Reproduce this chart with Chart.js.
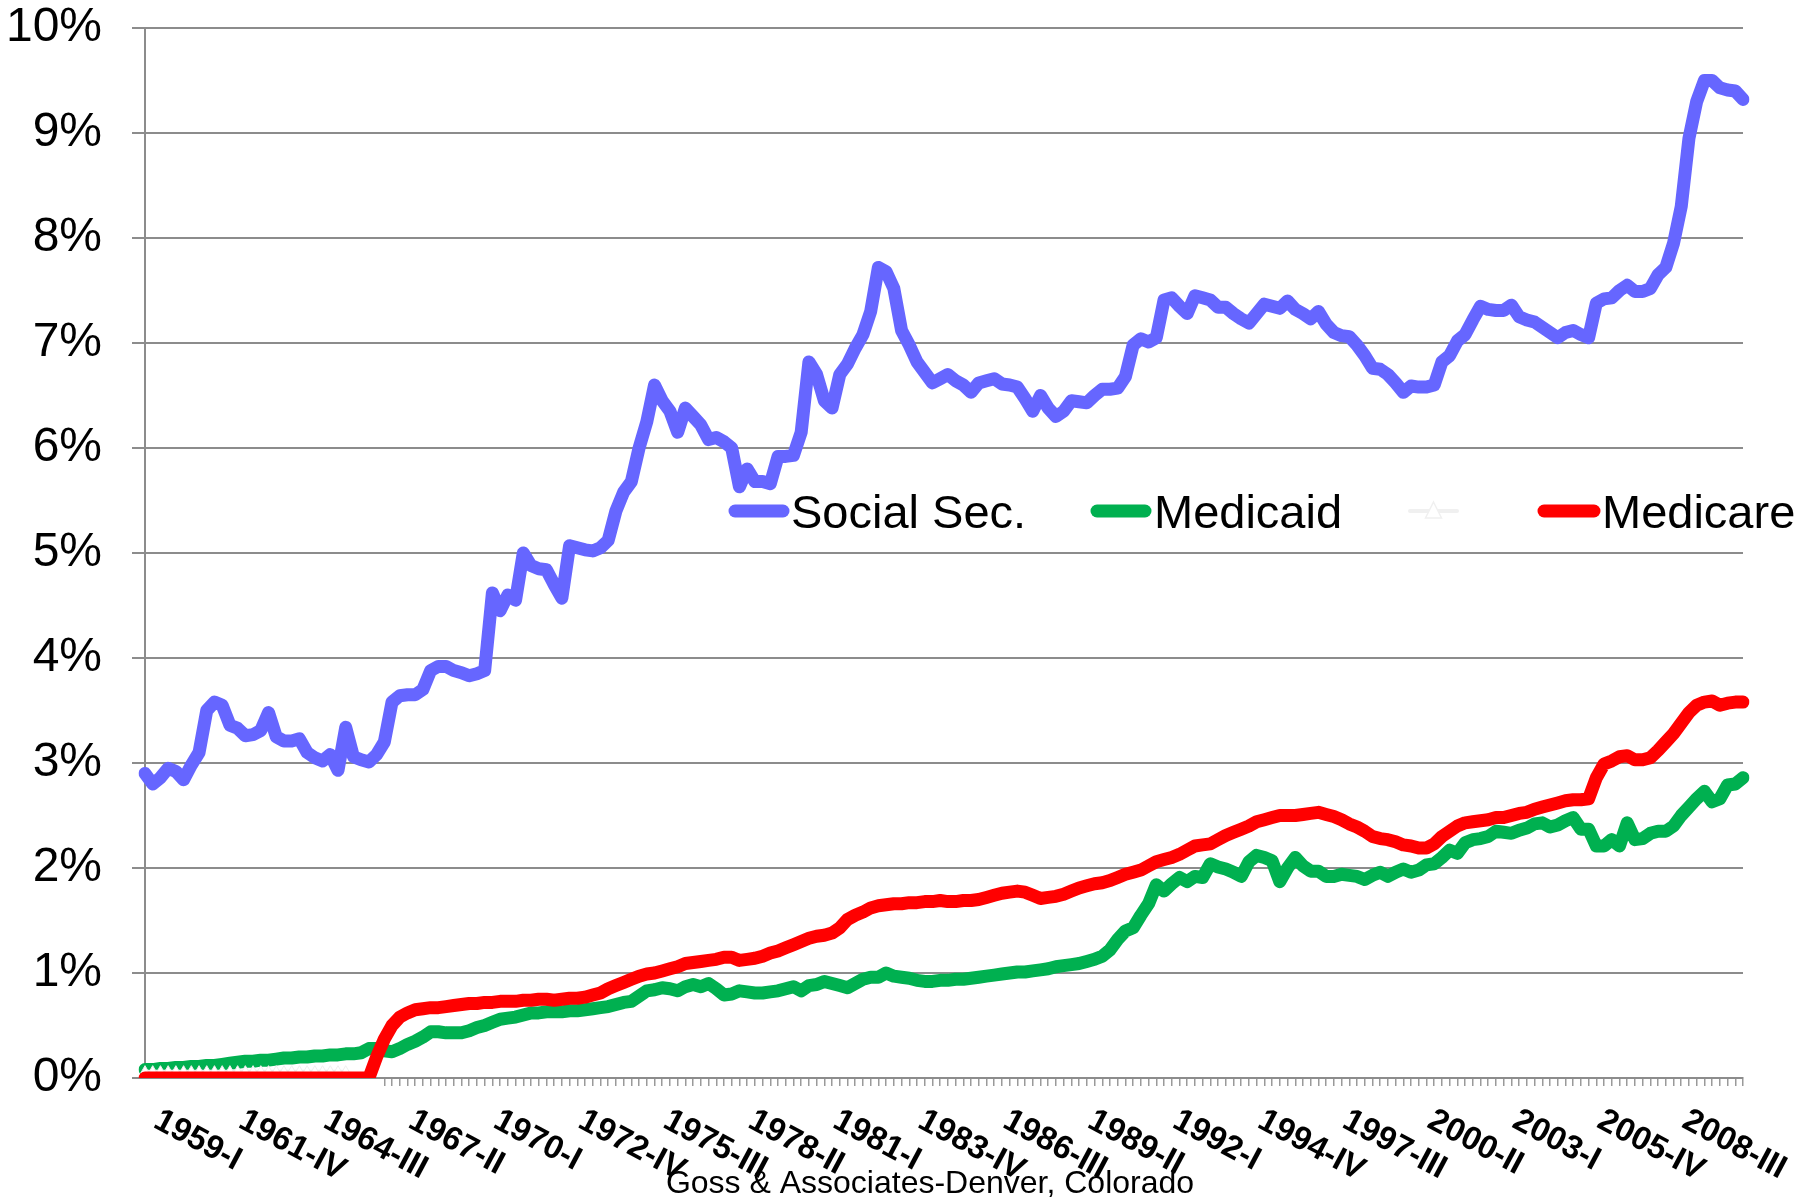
<!DOCTYPE html>
<html>
<head>
<meta charset="utf-8">
<script src="https://cdn.jsdelivr.net/npm/chart.js@4.4.1/dist/chart.umd.min.js"></script>
<style>
  html, body { margin: 0; padding: 0; background: #fff; }
  #wrap { width: 1818px; height: 1199px; }
</style>
</head>
<body>
<div id="wrap"><canvas id="chart" width="1818" height="1199"></canvas></div>
<script>
// quarterly, 1959-I .. 2010-IV
const firstYear = 1959;
const quarterNames = ['I', 'II', 'III', 'IV'];
const categories = [];
for (let y = firstYear; y <= 2010; y++) {
  quarterNames.forEach((q) => categories.push(y + '-' + q));
}
const labelEvery = 11;

const socialSec = [
  2.90, 2.80, 2.86, 2.95, 2.92, 2.84, 2.98, 3.10,
  3.50, 3.58, 3.55, 3.36, 3.33, 3.26, 3.27, 3.31,
  3.48, 3.25, 3.21, 3.21, 3.23, 3.10, 3.05, 3.02,
  3.08, 2.93, 3.34, 3.06, 3.03, 3.01, 3.08, 3.20,
  3.58, 3.64, 3.65, 3.65, 3.70, 3.88, 3.92, 3.92,
  3.88, 3.86, 3.83, 3.85, 3.88, 4.62, 4.45, 4.60,
  4.55, 5.00, 4.88, 4.85, 4.84, 4.70, 4.57, 5.07,
  5.05, 5.03, 5.02, 5.05, 5.12, 5.40, 5.58, 5.68,
  6.00, 6.25, 6.60, 6.45, 6.35, 6.15, 6.38, 6.30,
  6.22, 6.08, 6.10, 6.06, 6.00, 5.63, 5.80, 5.68,
  5.68, 5.66, 5.92, 5.92, 5.93, 6.15, 6.82, 6.70,
  6.45, 6.38, 6.70, 6.80, 6.95, 7.08, 7.30, 7.72,
  7.68, 7.52, 7.12, 6.98, 6.82, 6.72, 6.62, 6.66,
  6.70, 6.64, 6.60, 6.53, 6.62, 6.64, 6.66, 6.61,
  6.60, 6.58, 6.47, 6.35, 6.50, 6.38, 6.30, 6.35,
  6.45, 6.44, 6.43, 6.50, 6.56, 6.56, 6.57, 6.68,
  6.98, 7.04, 7.01, 7.05, 7.41, 7.43, 7.35, 7.28,
  7.45, 7.43, 7.41, 7.34, 7.34, 7.28, 7.23, 7.19,
  7.28, 7.37, 7.35, 7.33, 7.40, 7.32, 7.28, 7.23,
  7.30, 7.18, 7.10, 7.07, 7.06, 6.98, 6.88, 6.76,
  6.75, 6.70, 6.62, 6.53, 6.59, 6.58, 6.58, 6.60,
  6.82, 6.88, 7.02, 7.08, 7.22, 7.35, 7.32, 7.31,
  7.31, 7.36, 7.25, 7.22, 7.20, 7.15, 7.10, 7.05,
  7.10, 7.12, 7.08, 7.05, 7.38, 7.42, 7.43, 7.50,
  7.55, 7.49, 7.49, 7.52, 7.65, 7.72, 7.95, 8.30,
  8.95, 9.30, 9.50, 9.50, 9.43, 9.41, 9.40, 9.32,
];

const medicaid = [
  0.08, 0.08, 0.09, 0.09, 0.10, 0.10, 0.11, 0.11,
  0.12, 0.12, 0.13, 0.14, 0.15, 0.16, 0.16, 0.17,
  0.17, 0.18, 0.19, 0.19, 0.20, 0.20, 0.21, 0.21,
  0.22, 0.22, 0.23, 0.23, 0.24, 0.28, 0.28, 0.26,
  0.25, 0.28, 0.32, 0.35, 0.39, 0.44, 0.44, 0.43,
  0.43, 0.43, 0.45, 0.48, 0.50, 0.53, 0.56, 0.57,
  0.58, 0.60, 0.62, 0.62, 0.63, 0.63, 0.63, 0.64,
  0.64, 0.65, 0.66, 0.67, 0.68, 0.70, 0.72, 0.73,
  0.78, 0.83, 0.84, 0.86, 0.85, 0.83, 0.87, 0.89,
  0.87, 0.90, 0.85, 0.79, 0.80, 0.83, 0.82, 0.81,
  0.81, 0.82, 0.83, 0.85, 0.87, 0.83, 0.88, 0.89,
  0.92, 0.90, 0.88, 0.86, 0.90, 0.94, 0.96, 0.96,
  1.00, 0.97, 0.96, 0.95, 0.93, 0.92, 0.92, 0.93,
  0.93, 0.94, 0.94, 0.95, 0.96, 0.97, 0.98, 0.99,
  1.00, 1.01, 1.01, 1.02, 1.03, 1.04, 1.06, 1.07,
  1.08, 1.09, 1.11, 1.13, 1.16, 1.22, 1.32, 1.40,
  1.43, 1.55, 1.66, 1.84, 1.78, 1.85, 1.91, 1.87,
  1.92, 1.91, 2.04, 2.01, 1.99, 1.96, 1.92, 2.06,
  2.12, 2.10, 2.07, 1.87, 2.00, 2.10, 2.02, 1.97,
  1.97, 1.92, 1.92, 1.94, 1.93, 1.92, 1.89, 1.93,
  1.96, 1.92, 1.96, 1.99, 1.96, 1.98, 2.03, 2.04,
  2.10, 2.17, 2.14, 2.24, 2.27, 2.28, 2.30, 2.35,
  2.34, 2.33, 2.36, 2.38, 2.42, 2.43, 2.39, 2.41,
  2.45, 2.48, 2.37, 2.37, 2.21, 2.21, 2.27, 2.21,
  2.43, 2.27, 2.28, 2.33, 2.35, 2.35, 2.40, 2.50,
  2.58, 2.66, 2.73, 2.63, 2.66, 2.79, 2.80, 2.86,
];

const medicare = [
  0, 0, 0, 0, 0, 0, 0, 0,
  0, 0, 0, 0, 0, 0, 0, 0,
  0, 0, 0, 0, 0, 0, 0, 0,
  0, 0, 0, 0, 0, 0, 0.20, 0.37,
  0.50, 0.58, 0.62, 0.65, 0.66, 0.67, 0.67, 0.68,
  0.69, 0.70, 0.71, 0.71, 0.72, 0.72, 0.73, 0.73,
  0.73, 0.74, 0.74, 0.75, 0.75, 0.74, 0.75, 0.76,
  0.76, 0.77, 0.79, 0.81, 0.85, 0.88, 0.91, 0.94,
  0.97, 0.99, 1.00, 1.02, 1.04, 1.06, 1.09, 1.10,
  1.11, 1.12, 1.13, 1.15, 1.15, 1.12, 1.13, 1.14,
  1.16, 1.19, 1.21, 1.24, 1.27, 1.30, 1.33, 1.35,
  1.36, 1.38, 1.43, 1.51, 1.55, 1.58, 1.62, 1.64,
  1.65, 1.66, 1.66, 1.67, 1.67, 1.68, 1.68, 1.69,
  1.68, 1.68, 1.69, 1.69, 1.70, 1.72, 1.74, 1.76,
  1.77, 1.78, 1.77, 1.74, 1.71, 1.72, 1.73, 1.75,
  1.78, 1.81, 1.83, 1.85, 1.86, 1.88, 1.91, 1.94,
  1.96, 1.98, 2.02, 2.06, 2.08, 2.10, 2.13, 2.17,
  2.21, 2.22, 2.23, 2.27, 2.31, 2.34, 2.37, 2.40,
  2.44, 2.46, 2.48, 2.50, 2.50, 2.50, 2.51, 2.52,
  2.53, 2.51, 2.49, 2.46, 2.42, 2.39, 2.35, 2.30,
  2.28, 2.27, 2.25, 2.22, 2.21, 2.19, 2.19, 2.23,
  2.30, 2.35, 2.40, 2.43, 2.44, 2.45, 2.46, 2.48,
  2.48, 2.50, 2.52, 2.53, 2.56, 2.58, 2.60, 2.62,
  2.64, 2.65, 2.65, 2.66, 2.86, 2.99, 3.02, 3.06,
  3.07, 3.03, 3.03, 3.05, 3.12, 3.20, 3.28, 3.38,
  3.48, 3.55, 3.58, 3.59, 3.55, 3.57, 3.58, 3.58,
];

// the unnamed, nearly white series: only its early markers show
const unnamed = [
  0.07, 0.07, 0.07, 0.07, 0.07, 0.07, 0.07, 0.07,
  0.07, 0.07, 0.07, 0.07, 0.07, 0.07, 0.07, 0.07,
  0.07, 0.07, 0.07, 0.07, 0.07, 0.07, 0.07, 0.07,
  0.07, 0.07, 0.07,
];

const seriesNames = ['Social Sec.', 'Medicaid', '', 'Medicare'];
const seriesColors = ['#6666ff', '#00b050', '#f0f0f0', '#ff0000'];

const FONT = "'Liberation Sans', Arial, sans-serif";
const GRID = '#8c8c8c';

// x labels (rotated down to the right), legend inside the plot, footer
const decorations = {
  id: 'decorations',
  afterDraw(chart) {
    const ctx = chart.ctx;
    const xs = chart.scales.x;
    const bottom = chart.chartArea.bottom;

    ctx.save();
    ctx.fillStyle = '#000';
    ctx.font = 'bold 33px ' + FONT;
    ctx.textAlign = 'left';
    ctx.textBaseline = 'top';
    categories.forEach((c, i) => {
      if (i % labelEvery !== 0) return;
      const x = xs.getPixelForValue(i);
      ctx.save();
      ctx.translate(x + 19, bottom + 26);
      ctx.rotate(28 * Math.PI / 180);
      ctx.fillText(c, 0, 0);
      ctx.restore();
    });
    ctx.restore();

    const legendY = 511;
    const slots = [
      { x0: 735, x1: 783, tx: 791 },
      { x0: 1097, x1: 1145, tx: 1154 },
      { x0: 1410, x1: 1457, tx: 1465 },
      { x0: 1544, x1: 1594, tx: 1602 },
    ];
    ctx.save();
    ctx.lineCap = 'round';
    slots.forEach((s, k) => {
      ctx.strokeStyle = seriesColors[k];
      ctx.lineWidth = k === 2 ? 4 : 13;
      ctx.beginPath();
      ctx.moveTo(s.x0, legendY);
      ctx.lineTo(s.x1, legendY);
      ctx.stroke();
      if (k === 2) {
        const cx = (s.x0 + s.x1) / 2;
        ctx.fillStyle = '#fff';
        ctx.lineWidth = 1.5;
        ctx.beginPath();
        ctx.moveTo(cx, legendY - 9);
        ctx.lineTo(cx + 8, legendY + 7);
        ctx.lineTo(cx - 8, legendY + 7);
        ctx.closePath();
        ctx.fill();
        ctx.stroke();
      }
      if (seriesNames[k]) {
        ctx.fillStyle = '#000';
        ctx.font = '47px ' + FONT;
        ctx.textAlign = 'left';
        ctx.textBaseline = 'alphabetic';
        ctx.fillText(seriesNames[k], s.tx, legendY + 17);
      }
    });
    ctx.restore();

    ctx.save();
    ctx.fillStyle = '#000';
    ctx.font = '32px ' + FONT;
    ctx.textAlign = 'center';
    ctx.textBaseline = 'alphabetic';
    ctx.fillText('Goss & Associates-Denver, Colorado', 930, 1193);
    ctx.restore();
  },
};

function lineSet(k, data, order) {
  return {
    label: seriesNames[k],
    data: data,
    borderColor: seriesColors[k],
    backgroundColor: seriesColors[k],
    borderWidth: 13,
    borderCapStyle: 'round',
    borderJoinStyle: 'round',
    pointRadius: 0,
    tension: 0,
    order: order,
  };
}

const unnamedSet = lineSet(2, unnamed, 1);
unnamedSet.borderWidth = 2;
unnamedSet.pointRadius = 5;
unnamedSet.pointStyle = 'triangle';
unnamedSet.pointBackgroundColor = '#ffffff';
unnamedSet.pointBorderColor = '#eeeeee';
unnamedSet.pointBorderWidth = 1;

const chart = new Chart(document.getElementById('chart'), {
  type: 'line',
  data: {
    labels: categories,
    datasets: [
      lineSet(0, socialSec, 3),
      lineSet(1, medicaid, 2),
      unnamedSet,
      lineSet(3, medicare, 0),
    ],
  },
  options: {
    responsive: false,
    animation: false,
    devicePixelRatio: 1,
    layout: { padding: { top: 28, right: 75, bottom: 0, left: 0 } },
    plugins: {
      legend: { display: false },
      tooltip: { enabled: false },
    },
    scales: {
      x: {
        type: 'category',
        offset: false,
        ticks: { display: false },
        grid: {
          display: true,
          drawOnChartArea: false,
          drawTicks: true,
          tickLength: 8,
          // the early minor ticks sit under the pale series in the original
          color: (c) => (c.index <= 30 ? 'rgba(0,0,0,0)' : '#9a9a9a'),
          lineWidth: 1.5,
        },
        border: { display: true, color: GRID, width: 2 },
        afterFit: (s) => { s.height = 121; s.paddingLeft = 0; s.paddingRight = 0; },
      },
      y: {
        min: 0,
        max: 10,
        ticks: {
          stepSize: 1,
          color: '#000',
          padding: 30,
          font: { family: FONT, size: 48 },
          callback: (v) => v + '%',
        },
        grid: {
          color: GRID,
          lineWidth: 2,
          drawTicks: true,
          tickLength: 13,
        },
        border: { display: true, color: GRID, width: 2 },
        afterFit: (s) => { s.width = 145; s.paddingTop = 0; s.paddingBottom = 0; },
      },
    },
  },
  plugins: [decorations],
});
</script>
</body>
</html>
